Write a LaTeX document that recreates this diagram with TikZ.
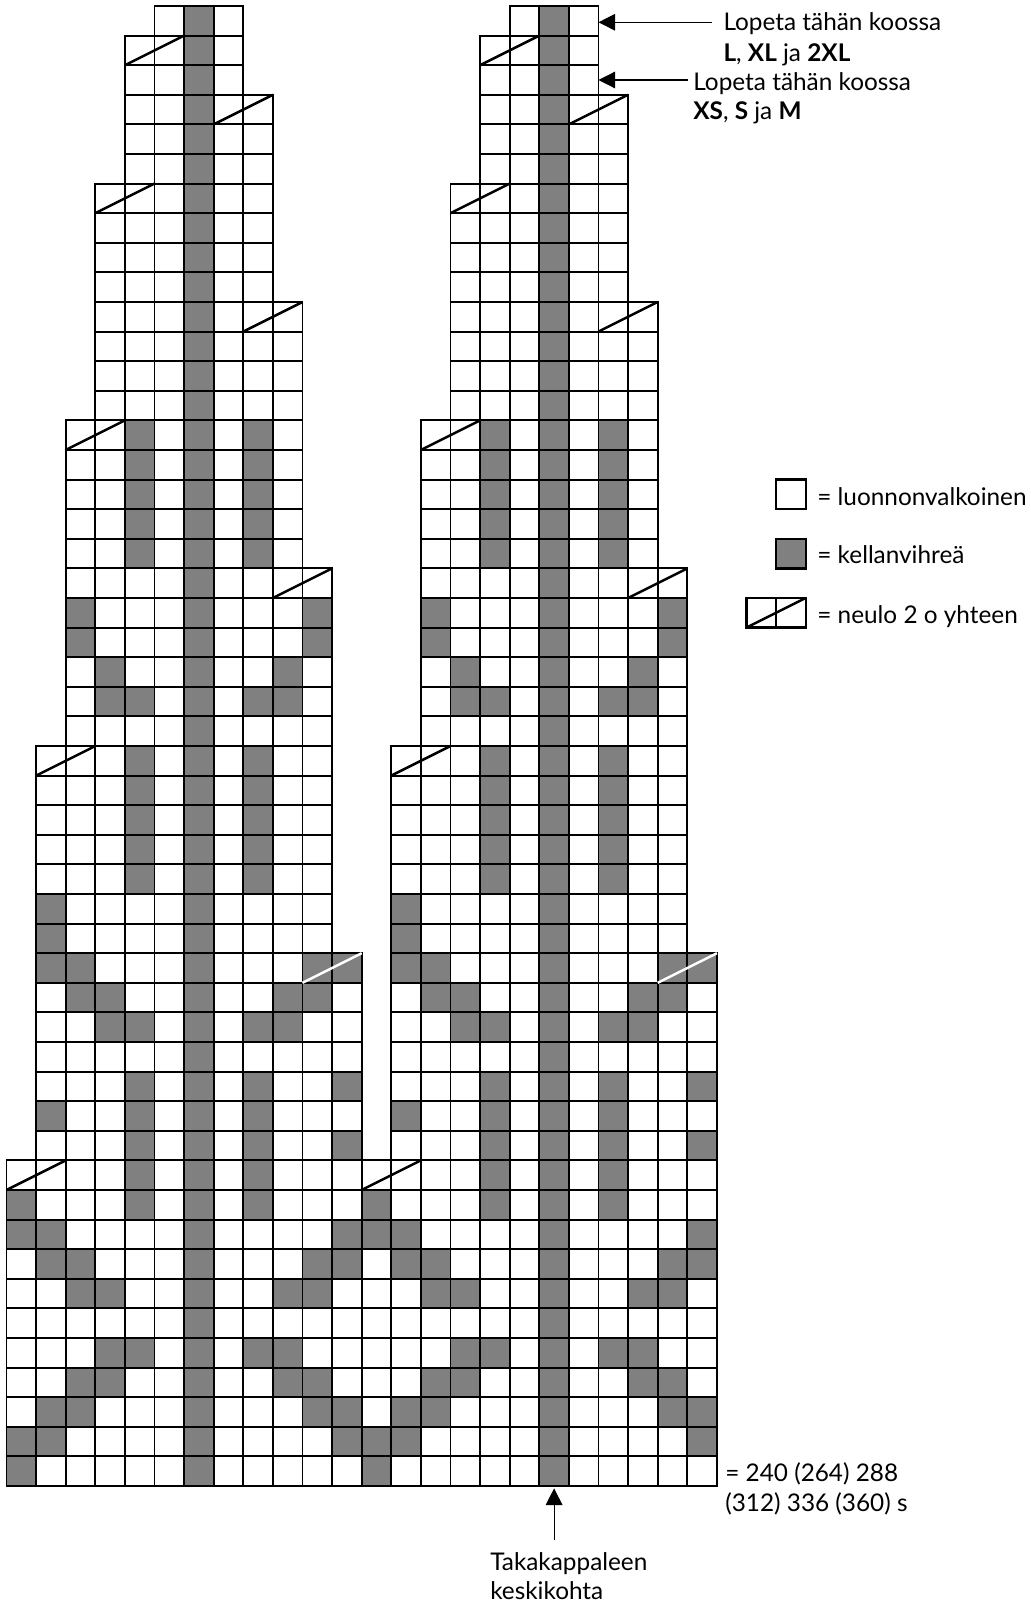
\documentclass[tikz,border=0pt]{standalone}
\usepackage{fontspec}
\setmainfont{Lato}
\usetikzlibrary{arrows.meta}
\definecolor{kg}{RGB}{128,128,128}
\begin{document}
\begin{tikzpicture}[x=0.5cm,y=0.5cm,
  cell/.style={draw=black,line width=0.9pt,fill=white},
  gcell/.style={draw=black,line width=0.9pt,fill=kg},
  decline/.style={line width=1.2pt},
  lbl/.style={anchor=base west,inner sep=0pt,font=\fontsize{11.7}{14.6}\selectfont},
  arr/.style={line width=0.55pt,-{Triangle[length=8pt,width=8pt]}}]
\useasboundingbox (-0.2196,-4.054) rectangle (34.61,50.203);
% grid cells of both charts
\foreach \off in {0,12}{
  \foreach \r/\lo/\hi in {0/5/7,1/4/7,2/4/7,3/4/8,4/4/8,5/4/8,6/3/8,7/3/8,8/3/8,9/3/8,
    10/3/9,11/3/9,12/3/9,13/3/9,14/2/9,15/2/9,16/2/9,17/2/9,18/2/9,
    19/2/10,20/2/10,21/2/10,22/2/10,23/2/10,24/2/10,
    25/1/10,26/1/10,27/1/10,28/1/10,29/1/10,30/1/10,31/1/10,
    32/1/11,33/1/11,34/1/11,35/1/11,36/1/11,37/1/11,38/1/11,
    39/0/11,40/0/11,41/0/11,42/0/11,43/0/11,44/0/11,45/0/11,46/0/11,47/0/11,48/0/11,49/0/11}{
    \foreach \c in {\lo,...,\hi}{
      \draw[cell] (\off+\c,49-\r) rectangle ++(1,1);
    }
  }
  % centre column
  \foreach \r in {0,...,49}{
    \draw[gcell] (\off+6,49-\r) rectangle ++(1,1);
  }
  % other green cells
  \foreach \r/\cl in {14/{4,8},15/{4,8},16/{4,8},17/{4,8},18/{4,8},
    20/{2,10},21/{2,10},22/{3,9},23/{3,4,8,9},
    25/{4,8},26/{4,8},27/{4,8},28/{4,8},29/{4,8},
    30/{1},31/{1},32/{1,2,10,11},33/{2,3,9,10},34/{3,4,8,9},
    36/{4,8,11},37/{1,4,8},38/{4,8,11},39/{4,8},40/{0,4,8},
    41/{0,1,11},42/{1,2,10,11},43/{2,3,9,10},45/{3,4,8,9},
    46/{2,3,9,10},47/{1,2,10,11},48/{0,1,11},49/{0}}{
    \foreach \c in \cl {
      \draw[gcell] (\off+\c,49-\r) rectangle ++(1,1);
    }
  }
  % decreases
  \foreach \r/\c in {1/4,3/7,6/3,10/8,14/2,19/9,25/1,39/0}{
    \draw[decline] (\off+\c,49-\r) -- (\off+\c+2,50-\r);
  }
  \draw[decline,white] (\off+10,17) -- (\off+12,18);
}
% legend
\draw[cell,line width=1.1pt] (26,33) rectangle (27,34);
\draw[gcell,line width=1.1pt] (26,31) rectangle (27,32);
\draw[cell,line width=1.1pt] (25,29) rectangle (26,30);
\draw[cell,line width=1.1pt] (26,29) rectangle (27,30);
\draw[decline] (25,29) -- (27,30);
\node[lbl] (leg1) at (27.38,33.14) {= luonnonvalkoinen};
\node[lbl] (leg2) at (27.38,31.18) {= kellanvihreä};
\node[lbl] (leg3) at (27.38,29.15) {= neulo 2 o yhteen};
% size notes
\node[lbl] (s1a) at (24.21,49.17) {Lopeta tähän koossa};
\node[lbl] (s1b) at (24.21,48.12) {\textbf{L}, \textbf{XL} ja \textbf{2XL}};
\node[lbl] (s2a) at (23.19,47.16) {Lopeta tähän koossa};
\node[lbl] (s2b) at (23.19,46.17) {\textbf{XS}, \textbf{S} ja \textbf{M}};
\coordinate (a1s) at (23.82,49.45);
\coordinate (a1e) at (20,49.45);
\coordinate (a2s) at (23.02,47.5);
\coordinate (a2e) at (20,47.5);
\draw[arr] (a1s) -- (a1e);
\draw[arr] (a2s) -- (a2e);
% bottom notes
\node[lbl] (cnt1) at (24.27,0.15) {= 240 (264) 288};
\node[lbl] (cnt2) at (24.27,-0.87) {(312) 336 (360) s};
\node[lbl] (tk1) at (16.33,-2.84) {Takakappaleen};
\node[lbl] (tk2) at (16.33,-3.85) {keskikohta};
\coordinate (a3s) at (18.5,-1.82);
\coordinate (a3e) at (18.5,-0.08);
\draw[arr] (a3s) -- (a3e);
\end{tikzpicture}
\end{document}
